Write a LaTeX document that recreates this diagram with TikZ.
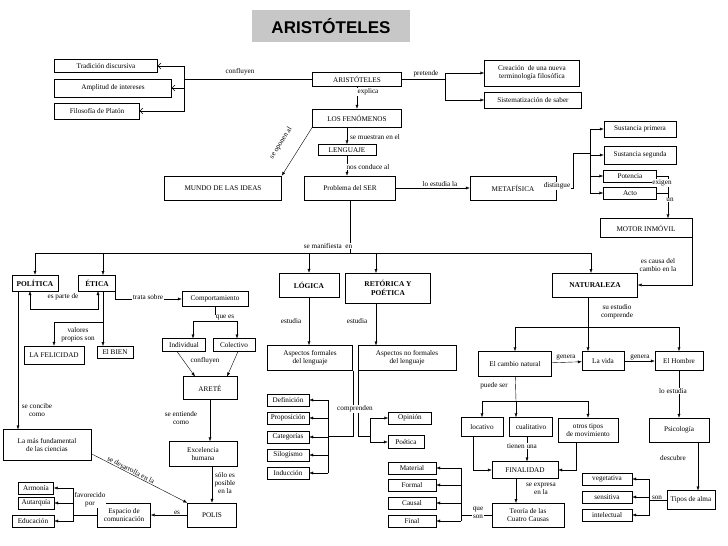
\documentclass[tikz,border=0pt]{standalone}
\usepackage{fontspec}
\setmainfont{Liberation Serif}
\newfontfamily\titlefont{Liberation Sans}
\usetikzlibrary{arrows.meta}

\begin{document}
\begin{tikzpicture}[x=1pt,y=-1pt,thin,
    font=\fontsize{7.2}{8.2}\selectfont,
    box/.style={draw,fill=white,inner sep=1pt,align=center},
    bbox/.style={box,font=\fontsize{7.4}{9.5}\selectfont\bfseries},
    lbl/.style={inner sep=0.5pt,align=center,fill=white},
    arr/.style={-{Latex[length=4pt,width=3pt]}},
    darr/.style={{Latex[length=4pt,width=3pt]}-{Latex[length=4pt,width=3pt]}},
    barb/.style={-{Straight Barb[length=3pt,width=6pt]}}]
    \useasboundingbox (0,0) rectangle (728,546);
    % title
    \node[fill=black!22,minimum width=158,minimum height=32,font=\titlefont\fontsize{17}{20}\selectfont\bfseries] (title) at (331,26) {ARISTÓTELES};
    % top part
    \node[box,minimum width=103,minimum height=13] (trad)  at (106,66)  {Tradición discursiva};
    \node[box,minimum width=117,minimum height=18] (ampl)  at (113,88)  {Amplitud de intereses};
    \node[box,minimum width=85,minimum height=16]  (filo)  at (97,111)  {Filosofía de Platón};
    \node[box,minimum width=89,minimum height=14]  (arist) at (357,79)  {ARISTÓTELES};
    \node[box,minimum width=95,minimum height=26]  (crea)  at (532,73)  {Creación \ de una nueva\\terminología filosófica};
    \node[box,minimum width=97,minimum height=16]  (sist)  at (533,100) {Sistematización de saber};
    \node[box,minimum width=89,minimum height=18]  (fen)   at (357,118) {LOS FENÓMENOS};
    \node[box,minimum width=58,minimum height=11]  (leng)  at (347,150) {LENGUAJE};
    \node[box,minimum width=117,minimum height=24] (mundo) at (223,188) {MUNDO DE LAS IDEAS};
    \node[box,minimum width=91,minimum height=24]  (prob)  at (350,188) {Problema del SER};
    \node[box,minimum width=86,minimum height=24]  (meta)  at (513,188) {METAFÍSICA};
    \node[box,minimum width=72,minimum height=16]  (sp)    at (640,129) {Sustancia primera};
    \node[box,minimum width=72,minimum height=18]  (ss)    at (640,155) {Sustancia segunda};
    \node[box,minimum width=53,minimum height=12]  (pot)   at (630,176) {Potencia};
    \node[box,minimum width=53,minimum height=12]  (acto)  at (630,193) {Acto};
    \node[box,minimum width=92,minimum height=19]  (motor) at (646,228) {MOTOR INMÓVIL};
    % second row
    \node[bbox,minimum width=46,minimum height=16] (pol)  at (35,283)  {POLÍTICA};
    \node[bbox,minimum width=37,minimum height=16] (etica) at (97,283) {ÉTICA};
    \node[bbox,minimum width=60,minimum height=24] (log)  at (309,285) {LÓGICA};
    \node[bbox,minimum width=85,minimum height=30] (ret)  at (388,288) {RETÓRICA Y\\POÉTICA};
    \node[bbox,minimum width=85,minimum height=24] (nat)  at (595,285) {NATURALEZA};
    % left part
    \node[box,minimum width=66,minimum height=15] (comp)  at (215,299) {Comportamiento};
    \node[box,minimum width=60,minimum height=18] (fel)   at (54,355)  {LA FELICIDAD};
    \node[box,minimum width=36,minimum height=12] (bien)  at (115,352) {El BIEN};
    \node[box,minimum width=43,minimum height=13] (indiv) at (184,345) {Individual};
    \node[box,minimum width=42,minimum height=13] (colec) at (234,345) {Colectivo};
    \node[box,minimum width=54,minimum height=23] (arete) at (210,388) {ARETÉ};
    \node[box,minimum width=68,minimum height=25] (exc)   at (203,454) {Excelencia\\humana};
    \node[box,minimum width=49,minimum height=24] (polis) at (212,515) {POLIS};
    \node[box,minimum width=53,minimum height=24] (esp)   at (124,515) {Espacio de\\comunicación};
    \node[box,minimum width=88,minimum height=31] (lamas) at (47,445)  {La más fundamental\\de las ciencias};
    \node[box,minimum width=35,minimum height=12] (armo)  at (36,488)  {Armonía};
    \node[box,minimum width=36,minimum height=12] (autar) at (36,503)  {Autarquía};
    \node[box,minimum width=42,minimum height=12] (educ)  at (33,521)  {Educación};
    % middle part
    \node[box,minimum width=85,minimum height=25] (afl)   at (310,358) {Aspectos formales\\del lenguaje};
    \node[box,minimum width=98,minimum height=25] (anfl)  at (407,358) {Aspectos no formales\\del lenguaje};
    \node[box,minimum width=42,minimum height=12] (defi)  at (288,400) {Definición};
    \node[box,minimum width=42,minimum height=12] (prop)  at (288,418) {Proposición};
    \node[box,minimum width=42,minimum height=12] (cate)  at (288,437) {Categorías};
    \node[box,minimum width=42,minimum height=12] (silo)  at (288,455) {Silogismo};
    \node[box,minimum width=42,minimum height=12] (indu)  at (288,473) {Inducción};
    \node[box,minimum width=43,minimum height=12] (opin)  at (410,418) {Opinión};
    \node[box,minimum width=36,minimum height=13] (poet)  at (406,442) {Poética};
    % right part
    \node[box,minimum width=73,minimum height=25] (camb)  at (515,364) {El cambio natural};
    \node[box,minimum width=42,minimum height=19] (vida)  at (603,361) {La vida};
    \node[box,minimum width=48,minimum height=19] (homb)  at (679,361) {El Hombre};
    \node[box,minimum width=42,minimum height=19] (loca)  at (482,427) {locativo};
    \node[box,minimum width=43,minimum height=19] (cual)  at (531,427) {cualitativo};
    \node[box,minimum width=60,minimum height=24] (otros) at (588,430) {otros tipos\\de movimiento};
    \node[box,minimum width=66,minimum height=17] (fin)   at (525,470) {FINALIDAD};
    \node[box,minimum width=72,minimum height=24] (teor)  at (528,515) {Teoría de las\\Cuatro Causas};
    \node[box,minimum width=48,minimum height=12] (mate)  at (412,468) {Material};
    \node[box,minimum width=48,minimum height=12] (form)  at (412,485) {Formal};
    \node[box,minimum width=48,minimum height=12] (caus)  at (412,503) {Causal};
    \node[box,minimum width=48,minimum height=12] (final) at (412,521) {Final};
    \node[box,minimum width=60,minimum height=24] (psic)  at (679,430) {Psicología};
    \node[box,minimum width=48,minimum height=19] (tipos) at (691,500) {Tipos de alma};
    \node[box,minimum width=50,minimum height=12] (vege)  at (607,479) {vegetativa};
    \node[box,minimum width=50,minimum height=12] (sens)  at (607,497) {sensitiva};
    \node[box,minimum width=50,minimum height=12] (intel) at (607,515) {intelectual};
    % connectors, top
    \coordinate (cf) at (184,79);
    \draw (arist) -- (cf);
    \draw[barb] (cf) |- (trad);
    \draw[barb] (cf) |- (ampl);
    \draw[barb] (cf) |- (filo);
    \coordinate (pr) at (445,79);
    \draw (arist) -- (pr);
    \draw[arr] (pr) |- (crea);
    \draw[arr] (pr) |- (sist);
    \draw[arr] (arist) -- (fen);
    \draw[arr] (fen.south -| leng) -- (leng);
    \draw[arr] (leng) -- (leng |- prob.north);
    \draw[arr] (fen.south west) -- (mundo.north east);
    \draw[arr] (prob) -- (meta);
    \coordinate (ds) at (573,188);
    \coordinate (dt) at (590,153);
    \draw (meta) -- (ds) |- (dt);
    \draw[arr] (dt) |- (sp);
    \draw[arr] (dt) |- (ss);
    \draw[arr] (dt) |- (pot);
    \draw[arr] (dt) |- (acto);
    \coordinate (ex) at (668,176);
    \draw (pot) -- (ex);
    \draw (acto) -| (ex);
    \draw[arr] (ex) -- (ex |- motor.north);
    \coordinate (mc) at (692,237);
    \draw[arr] (mc) |- (nat);
    % bus
    \coordinate (bus) at (350,253);
    \draw (prob) -- (bus);
    \draw (35,253) -- (591,253);
    \draw[arr] (bus -| pol) -- (pol);
    \draw[arr] (103,253) -- (103,275);
    \draw[arr] (bus -| log) -- (log);
    \draw[arr] (376,253) -- (376,273);
    \draw[arr] (591,253) -- (591,273);
    % left connectors
    \draw[darr] (30,291) -- (30,309) -- (98,309) -- (98,291);
    \draw[arr] (115,291) |- (comp);
    \draw[arr] (103,291) -- (103,346);
    \draw[arr] (103,322) -| (fel);
    \draw (comp) -- (215,321);
    \draw[arr] (193,321) -- (193,338.5);
    \draw[arr] (193,321) -- (237,321) -- (237,338.5);
    \draw[arr] (177,351.5) -- (195,376.5);
    \draw[arr] (238,351.5) -- (227,376.5);
    \draw[arr] (arete) -- (exc.north -| arete);
    \draw[arr] (exc.south -| polis) -- (polis);
    \draw[arr] (18,291) -- (18,429.5);
    \draw[arr] (lamas.south east) ++(0,-7) -- (polis.north west);
    \draw[arr] (polis) -- (esp);
    \coordinate (fv) at (73,515);
    \draw (esp) -- (fv);
    \draw[arr] (fv) |- (armo);
    \draw[arr] (fv) |- (autar);
    \draw[arr] (fv) |- (educ);
    % middle connectors
    \draw[arr] (log) -- (afl.north -| log);
    \draw[arr] (376,303) -- (376,345.5);
    \coordinate (cp) at (328,436);
    \draw (afl.south east) |- (cp);
    \draw (328,400) -- (328,473);
    \draw[arr] (cp |- defi) -- (defi);
    \draw[arr] (cp |- prop) -- (prop);
    \draw[arr] (cp |- cate) -- (cate);
    \draw[arr] (cp |- silo) -- (silo);
    \draw[arr] (cp |- indu) -- (indu);
    \coordinate (cq) at (370,436);
    \draw (anfl.south west) |- (cq);
    \draw[arr] (cq) |- (opin);
    \draw[arr] (cq) |- (poet);
    % right connectors
    \coordinate (nb) at (588,327);
    \draw (nat.south -| nb) -- (nb);
    \draw[arr] (nb) -| (camb);
    \draw[arr] (nb) -- (vida.north -| nb);
    \draw[arr] (nb) -| (homb);
    \draw[arr] (camb) -- (vida);
    \draw[arr] (vida) -- (homb);
    \coordinate (cb) at (516,401);
    \draw (camb) -- (cb);
    \draw[arr] (cb) -| (loca);
    \draw[arr] (cb) -- (cb |- cual.north);
    \draw[arr] (cb) -| (otros);
    \draw[arr] (473,436.5) |- (fin.west);
    \draw[arr] (527,436.5) -- (527,461.5);
    \draw[arr] (576,442) |- (fin.east);
    \draw[arr] (516,478.5) -- (516,503);
    \coordinate (qs) at (461,515);
    \draw (teor) -- (qs);
    \draw (461,468) -- (461,521);
    \draw[arr] (qs |- mate) -- (mate);
    \draw[arr] (qs |- form) -- (form);
    \draw[arr] (qs |- caus) -- (caus);
    \draw[arr] (qs |- final) -- (final);
    \draw[arr] (homb) -- (psic);
    \draw[arr] (698,442) -- (698,490.5);
    \coordinate (sn) at (649,500);
    \draw (tipos) -- (sn);
    \draw[arr] (sn) |- (vege);
    \draw[arr] (sn) |- (sens);
    \draw[arr] (sn) |- (intel);
    % labels
    \node[lbl] (l1)  at (240,72)  {confluyen};
    \node[lbl] (l2)  at (426,74)  {pretende};
    \node[lbl] (l3)  at (368,92)  {explica};
    \node[lbl,fill=none] (l4)  at (281,143) [rotate=58] {se oponen al};
    \node[lbl] (l5)  at (375,137) {se muestran en el};
    \node[lbl] (l6)  at (368,167) {nos conduce al};
    \node[lbl] (l7)  at (440,184) {lo estudia la};
    \node[lbl] (l8)  at (557,186) {distingue};
    \node[lbl] (l9)  at (662,183) {exigen};
    \node[lbl] (l10) at (670,200) {un};
    \node[lbl] (l11) at (658,265) {es causa del\\cambio en la};
    \node[lbl] (l12) at (328,246) {se manifiesta \ en};
    \node[lbl] (l13) at (63,297)  {es parte de};
    \node[lbl] (l14) at (148,297) {trata sobre};
    \node[lbl] (l15) at (78,335)  {valores\\propios son};
    \node[lbl] (l16) at (225,318) {que es};
    \node[lbl] (l17) at (205,361) {confluyen};
    \node[lbl] (l18) at (37,410)  {se concibe\\como};
    \node[lbl] (l19) at (181,418) {se entiende\\como};
    \node[lbl] (l20) at (225,483) {sólo es\\posible\\en la};
    \node[lbl,fill=none] (l21) at (131,470) [rotate=-27] {se desarrolla en la};
    \node[lbl] (l22) at (90,500)  {favorecido\\por};
    \node[lbl] (l23) at (177,513) {es};
    \node[lbl] (l24) at (291,321) {estudia};
    \node[lbl] (l25) at (357,321) {estudia};
    \node[lbl] (l26) at (355,409) {comprenden};
    \node[lbl] (l27) at (617,312) {su estudio\\comprende};
    \node[lbl,fill=none] (l28) at (566,357) {genera};
    \node[lbl,fill=none] (l29) at (640,357) {genera};
    \node[lbl] (l30) at (494,386) {puede ser};
    \node[lbl] (l31) at (522,446) {tienen una};
    \node[lbl] (l32) at (541,489) {se expresa\\en la};
    \node[lbl] (l33) at (478,513) {que\\son};
    \node[lbl] (l34) at (673,391) {lo estudia};
    \node[lbl] (l35) at (673,458) {descubre};
    \node[lbl] (l36) at (657,498) {son};
\end{tikzpicture}
\end{document}
